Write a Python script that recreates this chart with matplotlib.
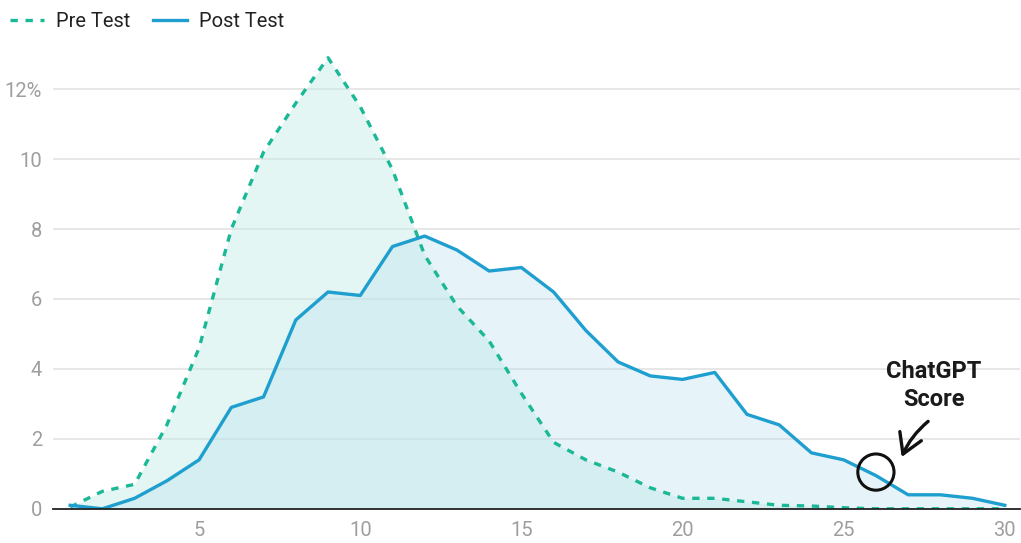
import matplotlib.pyplot as plt
from matplotlib.patches import FancyArrowPatch

plt.rcParams['font.family'] = ['Roboto', 'DejaVu Sans']

# scores 1..30, share of students (%)
scores = list(range(1, 31))
pre_test = [0.05, 0.5, 0.7, 2.4, 4.6, 8.0, 10.2, 11.6, 12.9, 11.5,
            9.7, 7.25, 5.8, 4.8, 3.3, 1.9, 1.4, 1.05, 0.6, 0.3,
            0.3, 0.2, 0.1, 0.08, 0.03, 0, 0, 0, 0, 0]
post_test = [0.1, 0, 0.3, 0.8, 1.4, 2.9, 3.2, 5.4, 6.2, 6.1,
             7.5, 7.8, 7.4, 6.8, 6.9, 6.2, 5.1, 4.2, 3.8, 3.7,
             3.9, 2.7, 2.4, 1.6, 1.4, 0.95, 0.4, 0.4, 0.3, 0.1]
chatgpt_score = 26
chatgpt_value = 1.05
y_ticks = [0, 2, 4, 6, 8, 10, 12]
y_labels = ['0', '2', '4', '6', '8', '10', '12%']
x_ticks = [5, 10, 15, 20, 25, 30]

pre_col = '#1ab896'
post_col = '#1f9fcf'

fig = plt.figure(figsize=(10.21, 5.43), dpi=100)
ax = fig.add_axes([0.052, 0.063, 0.947, 0.85])

ax.fill_between(scores, pre_test, color='#c2ece6', alpha=0.45, lw=0)
ax.fill_between(scores, post_test, color='#b8e0ef', alpha=0.35, lw=0)
ax.plot(scores, pre_test, color=pre_col, lw=2.4, dashes=(2.2, 2.3), label='Pre Test')
ax.plot(scores, post_test, color=post_col, lw=2.4, label='Post Test')

ax.set_xlim(0.47, 30.47)
ax.set_ylim(0, 13.2)
ax.set_yticks(y_ticks)
ax.set_yticklabels(y_labels)
ax.set_xticks(x_ticks)
ax.tick_params(length=0, labelsize=14.5, colors='#9e9e9e', pad=8)
ax.tick_params(axis='x', pad=9)
ax.grid(axis='y', color='#e3e3e3', lw=1.2)
ax.set_axisbelow(True)
for s in ['top', 'right', 'left']:
    ax.spines[s].set_visible(False)
ax.spines['bottom'].set_color('#222222')
ax.spines['bottom'].set_linewidth(1.3)
ax.spines['bottom'].set_zorder(5)

# ChatGPT marker
ax.scatter([chatgpt_score], [chatgpt_value], s=680, facecolors='none',
           edgecolors='#111111', linewidths=2.2, zorder=6)
ax.text(27.8, 3.53, 'ChatGPT\nScore', ha='center', va='center',
        fontsize=17, fontweight='bold', color='#1a1a1a', linespacing=1.25)
arrow = FancyArrowPatch((27.62, 2.5), (26.8, 1.48),
                        arrowstyle='->,head_length=0.7,head_width=0.42',
                        connectionstyle='arc3,rad=0.12', color='#111111', lw=2.4,
                        mutation_scale=20, shrinkA=0, shrinkB=0, zorder=6)
ax.add_patch(arrow)

leg = fig.legend(loc='upper left', bbox_to_anchor=(-0.008, 1.012), ncol=2, frameon=False,
                 fontsize=14.5, handlelength=1.7, columnspacing=1.1, handletextpad=0.6)
for t in leg.get_texts():
    t.set_color('#222222')

fig.savefig('out.png', dpi=100)
